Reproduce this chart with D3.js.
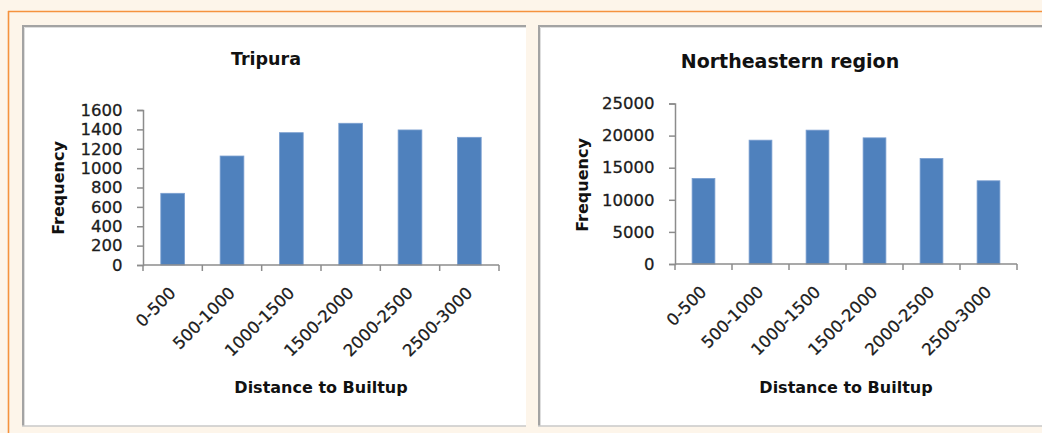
<!DOCTYPE html>
<html>
<head>
<meta charset="utf-8">
<script src="https://cdn.jsdelivr.net/npm/d3@7"></script>
<style>
  html, body { margin: 0; padding: 0; background: #fdf5ea; }
  svg { display: block; }
  text { font-family: "DejaVu Sans", sans-serif; }
</style>
</head>
<body>
<svg id="fig" width="1042" height="433"></svg>
<script>
// Distance bins (metres) shared by both histograms
const categories = ["0-500", "500-1000", "1000-1500", "1500-2000", "2000-2500", "2500-3000"];

// Tripura frequencies per bin
const tripuraValues = [740, 1125, 1366, 1463, 1394, 1318];
const tripuraTicks = [0, 200, 400, 600, 800, 1000, 1200, 1400, 1600];

// Northeastern region frequencies per bin
const neValues = [13330, 19290, 20850, 19650, 16440, 12960];
const neTicks = [0, 5000, 10000, 15000, 20000, 25000];

const titles = ["Tripura", "Northeastern region"];
const xTitle = "Distance to Builtup";
const yTitle = "Frequency";

const svg = d3.select("#fig");
const W = 1042, H = 433;

// page background and orange frame
svg.append("rect").attr("width", W).attr("height", H).attr("fill", "#fdf5ea");
svg.append("line").attr("x1", 8).attr("x2", W).attr("y1", 11.5).attr("y2", 11.5)
  .attr("stroke", "#f5923e").attr("stroke-width", 1.6);
svg.append("line").attr("x1", 8.5).attr("x2", 8.5).attr("y1", 11).attr("y2", H)
  .attr("stroke", "#f5923e").attr("stroke-width", 1.6);

// white chart panels with a soft grey inset edge
function panel(x, y, w, h) {
  const g = svg.append("g");
  g.append("rect").attr("x", x).attr("y", y).attr("width", w).attr("height", h).attr("fill", "#ffffff");
  g.append("path").attr("d", `M${x + 1},${y + h} V${y + 1} H${x + w}`)
    .attr("fill", "none").attr("stroke", "#a3a3a3").attr("stroke-width", 2);
  g.append("path").attr("d", `M${x + 2.5},${y + h} V${y + 2.5} H${x + w}`)
    .attr("fill", "none").attr("stroke", "#dedede").attr("stroke-width", 1);
  g.append("line").attr("x1", x).attr("x2", x + w).attr("y1", y + h).attr("y2", y + h)
    .attr("stroke", "#c8c8c8").attr("stroke-width", 1.5);
}
panel(22, 25, 504, 401);
panel(538, 25, 510, 401);

function histogram(opts) {
  const { values, ticks, title, titleSize, left, right, zeroY, topY, titleX, titleY, yLabelX, yLabelY, xLabelY } = opts;
  const g = svg.append("g");

  const x = d3.scaleBand().domain(categories).range([left, right])
    .paddingInner(0.6).paddingOuter(0.3);
  const y = d3.scaleLinear().domain([0, d3.max(ticks)]).range([zeroY, topY]);

  // bars
  g.selectAll("rect.bar").data(values).join("rect")
    .attr("class", "bar")
    .attr("x", (d, i) => x(categories[i]))
    .attr("width", x.bandwidth())
    .attr("y", d => y(d))
    .attr("height", d => y(0) - y(d))
    .attr("fill", "#4f81bd")
    .attr("stroke", "#7b9fd0")
    .attr("stroke-width", 0.8);

  // y axis
  const ya = g.append("g").attr("transform", `translate(${left},0)`)
    .call(d3.axisLeft(y).tickValues(ticks).tickSize(6).tickPadding(14.5).tickFormat(d3.format("d")));
  ya.select(".domain").attr("stroke", "#8c8c8c").attr("stroke-width", 1.5);
  ya.selectAll(".tick line").attr("stroke", "#8c8c8c").attr("stroke-width", 1.5);
  ya.selectAll(".tick text").attr("font-size", 16.5).attr("fill", "#1c1c1c")
    .attr("stroke", "#1c1c1c").attr("stroke-width", 0.3)
    .attr("font-family", "DejaVu Sans, sans-serif");

  // x axis with tick marks between categories
  const step = x.step();
  const bounds = d3.range(categories.length + 1).map(i => left + i * step);
  g.append("line").attr("x1", left).attr("x2", right).attr("y1", zeroY).attr("y2", zeroY)
    .attr("stroke", "#8c8c8c").attr("stroke-width", 1.5);
  g.selectAll("line.xt").data(bounds).join("line").attr("class", "xt")
    .attr("x1", d => d).attr("x2", d => d).attr("y1", zeroY).attr("y2", zeroY + 6)
    .attr("stroke", "#8c8c8c").attr("stroke-width", 1.5);

  g.selectAll("text.xl").data(categories).join("text").attr("class", "xl")
    .attr("transform", d => `translate(${x(d) + x.bandwidth() / 2 + 4},${zeroY + 29}) rotate(-45)`)
    .attr("text-anchor", "end")
    .attr("font-size", 16.5).attr("fill", "#1c1c1c")
    .attr("stroke", "#1c1c1c").attr("stroke-width", 0.3)
    .text(d => d);

  // titles
  g.append("text").attr("x", titleX).attr("y", titleY).attr("text-anchor", "middle")
    .attr("font-size", titleSize).attr("font-weight", 700).attr("fill", "#111").text(title);
  g.append("text").attr("x", (left + right) / 2).attr("y", xLabelY).attr("text-anchor", "middle")
    .attr("font-size", 16).attr("font-weight", 700).attr("fill", "#111").text(xTitle);
  g.append("text")
    .attr("transform", `translate(${yLabelX},${yLabelY}) rotate(-90)`)
    .attr("text-anchor", "middle").attr("dy", "0.35em")
    .attr("font-size", 16).attr("font-weight", 700).attr("fill", "#111").text(yTitle);
}

histogram({
  values: tripuraValues, ticks: tripuraTicks, title: titles[0], titleSize: 17.5,
  left: 143, right: 499, zeroY: 265, topY: 110,
  titleX: 266, titleY: 65, yLabelX: 58, yLabelY: 188, xLabelY: 393
});
histogram({
  values: neValues, ticks: neTicks, title: titles[1], titleSize: 19,
  left: 675, right: 1017, zeroY: 264, topY: 103.5,
  titleX: 790, titleY: 68, yLabelX: 582, yLabelY: 185, xLabelY: 393
});
</script>
</body>
</html>
